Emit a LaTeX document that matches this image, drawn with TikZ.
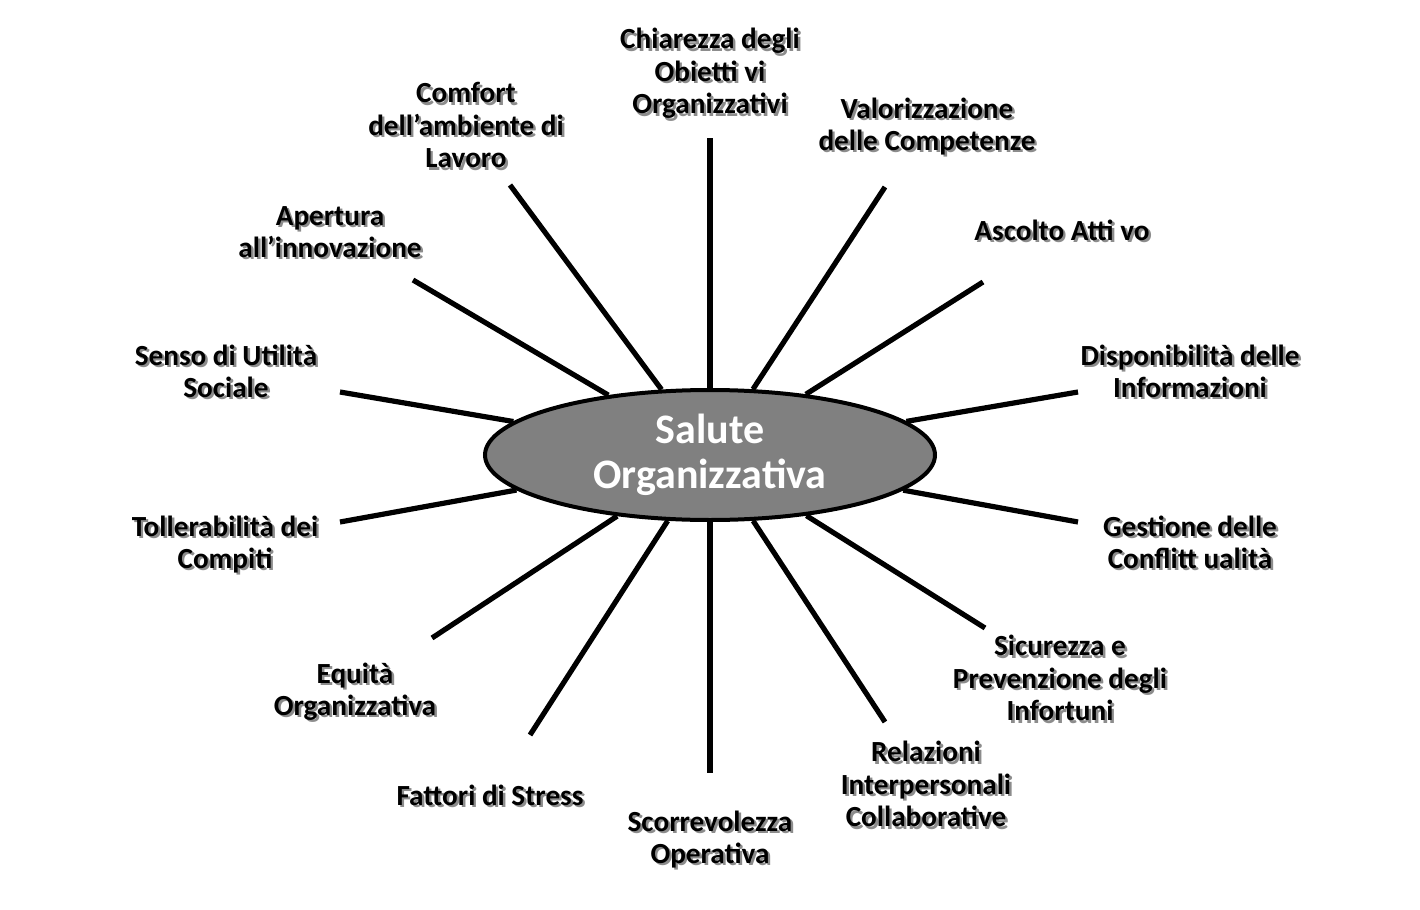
\documentclass[tikz,border=0pt]{standalone}
\usepackage{fontspec}
\setmainfont{Carlito}
\usetikzlibrary{shapes.geometric, positioning}

\newcommand{\shd}[1]{\rlap{\kern1.2pt\raisebox{-1.2pt}{\color{black!45}\begin{tabular}{@{}c@{}}#1\end{tabular}}}\begin{tabular}{@{}c@{}}#1\end{tabular}}

\tikzset{
	topic/.style={font=\bfseries\fontsize{14.6}{16.2}\selectfont, inner sep=0pt, yshift=-2pt},
	hub/.style={ellipse, draw=black, line width=2pt, fill=black!50, text=white, align=center,
		font=\bfseries\fontsize{21}{22.5}\selectfont, minimum width=225pt, minimum height=65pt, inner sep=0pt},
	spoke/.style={line width=2.6pt}
}

\begin{document}
\begin{tikzpicture}[x=0.5pt, y=-0.5pt]
	\fill[white] (0,0) rectangle (1420,910);
	\useasboundingbox (0,0) rectangle (1420,910);
	
	\node[hub] (org) at (710,455) {Salute\\Organizzativa};
	
	% topics, clockwise from the top
	\node[topic] (chi) at (710,72)   {\shd{Chiarezza degli\\Obietti vi\\Organizzativi}};
	\node[topic] (val) at (927,125)  {\shd{Valorizzazione\\delle Competenze}};
	\node[topic] (asc) at (1062,231) {\shd{Ascolto Atti vo}};
	\node[topic] (dis) at (1190,372) {\shd{Disponibilità delle\\Informazioni}};
	\node[topic] (ges) at (1190,543) {\shd{Gestione delle\\Conflitt ualità}};
	\node[topic] (sic) at (1060,679) {\shd{Sicurezza e\\Prevenzione degli\\Infortuni}};
	\node[topic] (rel) at (926,785)  {\shd{Relazioni\\Interpersonali\\Collaborative}};
	\node[topic] (sco) at (710,838)  {\shd{Scorrevolezza\\Operativa}};
	\node[topic] (fat) at (490,796)  {\shd{Fattori di Stress}};
	\node[topic] (equ) at (355,690)  {\shd{Equità\\Organizzativa}};
	\node[topic] (tol) at (225,543)  {\shd{Tollerabilità dei\\Compiti}};
	\node[topic] (sen) at (226,372)  {\shd{Senso di Utilità\\Sociale}};
	\node[topic] (ape) at (330,232)  {\shd{Apertura\\all’innovazione}};
	\node[topic] (com) at (466,126)  {\shd{Comfort\\dell’ambiente di\\Lavoro}};
	
	% free ends of the spokes
	\coordinate (chi-e) at (710,138);
	\coordinate (val-e) at (885,187);
	\coordinate (asc-e) at (983,282);
	\coordinate (dis-e) at (1078,392);
	\coordinate (ges-e) at (1078,522);
	\coordinate (sic-e) at (985,628);
	\coordinate (rel-e) at (885,722);
	\coordinate (sco-e) at (710,773);
	\coordinate (fat-e) at (530,735);
	\coordinate (equ-e) at (432,638);
	\coordinate (tol-e) at (340,522);
	\coordinate (sen-e) at (340,392);
	\coordinate (ape-e) at (413,280);
	\coordinate (com-e) at (510,185);
	
	\foreach \t in {chi, val, asc, dis, ges, sic, rel, sco, fat, equ, tol, sen, ape, com}
		\draw[spoke] (org) -- (\t-e);
\end{tikzpicture}
\end{document}
